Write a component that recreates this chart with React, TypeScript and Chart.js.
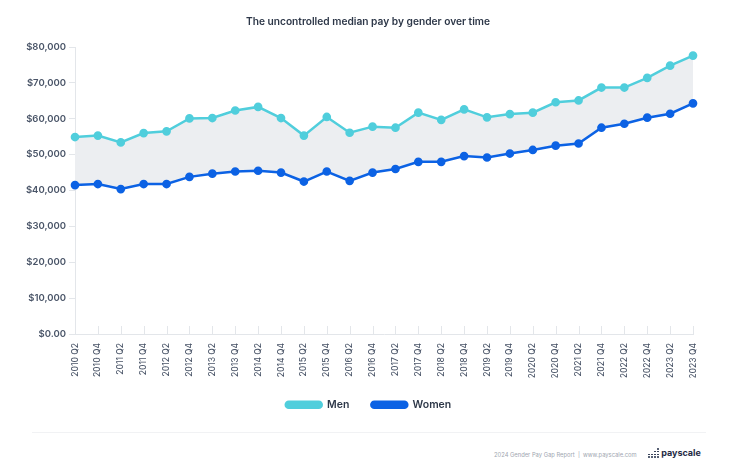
import React, { useEffect, useRef } from "react";
import { Chart, registerables } from "chart.js";

Chart.register(...registerables);

const categories = [
  "2010 Q2", "2010 Q4", "2011 Q2", "2011 Q4", "2012 Q2", "2012 Q4", "2013 Q2",
  "2013 Q4", "2014 Q2", "2014 Q4", "2015 Q2", "2015 Q4", "2016 Q2", "2016 Q4",
  "2017 Q2", "2017 Q4", "2018 Q2", "2018 Q4", "2019 Q2", "2019 Q4", "2020 Q2",
  "2020 Q4", "2021 Q2", "2021 Q4", "2022 Q2", "2022 Q4", "2023 Q2", "2023 Q4",
];

const menPay = [
  54900, 55300, 53400, 56000, 56500, 60100, 60200, 62300, 63300, 60200, 55300,
  60500, 56100, 57800, 57500, 61700, 59700, 62600, 60400, 61300, 61700, 64600,
  65100, 68700, 68700, 71400, 74800, 77600,
];

const womenPay = [
  41500, 41800, 40400, 41800, 41800, 43800, 44700, 45300, 45500, 45000, 42500,
  45300, 42700, 45000, 46000, 48000, 48000, 49600, 49200, 50300, 51300, 52500,
  53100, 57500, 58600, 60300, 61400, 64300,
];

const yMin = 0;
const yMax = 80000;
const yStep = 10000;

const titleText = "The uncontrolled median pay by gender over time";
const footerText = "2024 Gender Pay Gap Report  |  www.payscale.com";

const MEN_COLOR = "#50cedc";
const WOMEN_COLOR = "#0c62e4";
const GAP_FILL = "#eceef1";
const AXIS_COLOR = "#e3e6ea";
const LABEL_COLOR = "#4a5568";

const innerTicks = {
  id: "innerTicks",
  afterDatasetsDraw(chart: any) {
    const x = chart.scales.x;
    const area = chart.chartArea;
    const ctx = chart.ctx;
    ctx.save();
    ctx.strokeStyle = AXIS_COLOR;
    ctx.lineWidth = 1;
    for (let i = 1; i < x.ticks.length; i++) {
      const px = Math.round(x.getPixelForTick(i)) + 0.5;
      ctx.beginPath();
      ctx.moveTo(px, area.bottom - 8);
      ctx.lineTo(px, area.bottom);
      ctx.stroke();
    }
    ctx.restore();
  },
};

// centre the legend on the page rather than on the padded layout box
const legendShift = {
  id: "legendShift",
  afterLayout(chart: any) {
    if (chart.legend) {
      chart.legend.left += 22;
      chart.legend.right += 22;
    }
  },
};

function PayChart() {
  const ref = useRef<HTMLCanvasElement | null>(null);
  useEffect(() => {
    if (!ref.current) return;
    const chart = new Chart(ref.current, {
      type: "line",
      data: {
        labels: categories,
        datasets: [
          {
            label: "Men",
            data: menPay,
            borderColor: MEN_COLOR,
            backgroundColor: MEN_COLOR,
            pointBackgroundColor: MEN_COLOR,
            pointBorderColor: MEN_COLOR,
            borderWidth: 2.5,
            pointRadius: 3.1,
            tension: 0,
            fill: { target: "+1", above: GAP_FILL, below: GAP_FILL },
          },
          {
            label: "Women",
            data: womenPay,
            borderColor: WOMEN_COLOR,
            backgroundColor: WOMEN_COLOR,
            pointBackgroundColor: WOMEN_COLOR,
            pointBorderColor: WOMEN_COLOR,
            borderWidth: 2.5,
            pointRadius: 3.1,
            tension: 0,
            fill: false,
          },
        ],
      },
      options: {
        responsive: false,
        animation: false,
        devicePixelRatio: 1,
        layout: { padding: { left: 0, right: 43, top: 47, bottom: 5 } },
        scales: {
          x: {
            offset: false,
            afterFit: (s: any) => { s.height = 43.5; },
            grid: { display: true, drawOnChartArea: false, drawTicks: false, color: AXIS_COLOR },
            border: { display: true, color: AXIS_COLOR },
            ticks: {
              maxRotation: 90,
              minRotation: 90,
              autoSkip: false,
              padding: 9,
              color: LABEL_COLOR,
              font: { family: "Inter", size: 8.5, weight: "500" },
            },
          },
          y: {
            min: yMin,
            max: yMax,
            afterFit: (s: any) => { s.width = 75; },
            grid: { display: true, drawOnChartArea: false, tickLength: 6, color: AXIS_COLOR },
            border: { display: true, color: AXIS_COLOR },
            ticks: {
              stepSize: yStep,
              padding: 3,
              color: LABEL_COLOR,
              font: { family: "Inter", size: 9.5, weight: "600" },
              callback: (v: any) =>
                Number(v) === 0 ? "$0.00" : "$" + Number(v).toLocaleString("en-US"),
            },
          },
        },
        plugins: {
          filler: { drawTime: "beforeDatasetsDraw" },
          title: { display: false },
          legend: {
            position: "bottom",
            labels: {
              boxWidth: 36,
              boxHeight: 6,
              useBorderRadius: true,
              borderRadius: 3,
              padding: 22,
              color: "#2d3748",
              font: { family: "Inter", size: 10.5, weight: "600" },
            },
          },
          tooltip: { enabled: false },
        },
      },
      plugins: [innerTicks, legendShift],
    });
    return () => chart.destroy();
  }, []);
  return <canvas ref={ref} width={736} height={425} style={{ display: "block" }} />;
}

function Logo() {
  const cols = [2, 2, 3, 4];
  return (
    <span style={{ display: "inline-flex", alignItems: "flex-end", gap: 1.3, marginRight: 2.5, height: 11 }}>
      {cols.map((n, i) => (
        <span key={i} style={{ display: "flex", flexDirection: "column", gap: 1.1 }}>
          {Array.from({ length: n }).map((_, j) => (
            <span key={j} style={{ width: 1.7, height: 1.7, borderRadius: 1, background: "#1f2b45", display: "block" }} />
          ))}
        </span>
      ))}
    </span>
  );
}

export default function App() {
  return (
    <div style={{ position: "absolute", left: 0, top: 0, width: 736, height: 472, background: "#fff", overflow: "hidden" }}>
      <PayChart />
      <div style={{ position: "absolute", left: 0, top: 14, width: 736, textAlign: "center", fontFamily: "Inter", fontSize: 10.2, fontWeight: 600, color: "#2d3748", lineHeight: "14px" }}>
        {titleText}
      </div>
      <div style={{ position: "absolute", left: 32, top: 432, width: 674, height: 1, background: "#f1f2f4" }} />
      <div style={{ position: "absolute", left: 494, top: 451, fontFamily: "Inter", fontSize: 5.8, color: "#a0a6b0", whiteSpace: "pre", lineHeight: "8px" }}>
        {footerText}
      </div>
      <div style={{ position: "absolute", left: 648, top: 447, display: "flex", alignItems: "flex-end", fontFamily: "Inter", fontSize: 9, fontWeight: 700, color: "#1f2b45" }}>
        <Logo />
        <span style={{ lineHeight: "11px" }}>payscale</span>
      </div>
    </div>
  );
}
